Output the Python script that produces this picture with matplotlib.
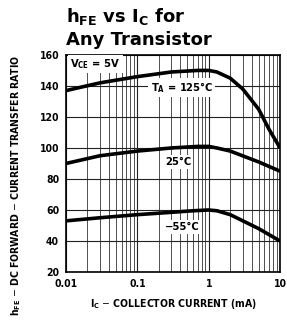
import matplotlib
matplotlib.use("Agg")
import matplotlib.pyplot as plt
from matplotlib.ticker import FixedLocator, LogLocator, NullFormatter

plt.rcParams['font.family'] = ['DejaVu Sans']
plt.rcParams['font.stretch'] = 'condensed'

# collector current (mA)
ic_125 = [0.01, 0.03, 0.1, 0.3, 0.7, 1.0, 1.3, 2.0, 3.0, 5.0, 7.0, 10.0]
hfe_125 = [137, 142, 146, 149, 150, 150, 149, 145, 138, 125, 112, 100]

ic_25 = [0.01, 0.03, 0.1, 0.3, 0.7, 1.0, 1.3, 2.0, 5.0, 10.0]
hfe_25 = [90, 95, 98, 100, 101, 101, 100, 98, 91, 85]

ic_m55 = [0.01, 0.03, 0.1, 0.3, 0.6, 1.0, 1.3, 2.0, 5.0, 10.0]
hfe_m55 = [53, 55, 57, 58.5, 59.5, 60, 59.5, 57, 48, 40]

y_ticks = [20, 40, 60, 80, 100, 120, 140, 160]
x_ticks = [0.01, 0.1, 1, 10]
x_ticklabels = ["0.01", "0.1", "1", "10"]

fig = plt.figure(figsize=(2.87, 3.25), dpi=100)
ax = fig.add_axes([0.23, 0.163, 0.746, 0.668])

ax.set_xscale("log")
ax.set_xlim(0.01, 10)
ax.set_ylim(20, 160)

ax.xaxis.set_major_locator(FixedLocator(x_ticks))
ax.xaxis.set_minor_locator(LogLocator(base=10, subs=range(2, 10)))
ax.xaxis.set_minor_formatter(NullFormatter())
ax.set_xticks(x_ticks)
ax.set_xticklabels(x_ticklabels)
ax.set_yticks(y_ticks)

ax.grid(True, which="major", color="#222222", lw=0.8)
ax.grid(True, which="minor", axis="x", color="#333333", lw=0.6)
ax.tick_params(which="both", length=0, labelsize=7.5, pad=5)
for lab in ax.get_xticklabels() + ax.get_yticklabels():
    lab.set_fontweight("bold")
for s in ax.spines.values():
    s.set_linewidth(1.2)

for xs, ys in [(ic_125, hfe_125), (ic_25, hfe_25), (ic_m55, hfe_m55)]:
    ax.plot(xs, ys, color="black", lw=2.6, solid_capstyle="butt", zorder=3)

box = dict(facecolor="white", edgecolor="none", pad=1.5)
ax.text(0.0115, 154, r"V$_{\mathregular{CE}}$ = 5V", fontsize=8, fontweight="bold",
        ha="left", va="center", bbox=box, zorder=4)
ax.text(0.42, 139, r"T$_{\mathregular{A}}$ = 125°C", fontsize=8, fontweight="bold",
        ha="center", va="center", bbox=box, zorder=4)
ax.text(0.37, 91, "25°C", fontsize=8, fontweight="bold",
        ha="center", va="center", bbox=box, zorder=4)
ax.text(0.42, 49, "\u221255°C", fontsize=8, fontweight="bold",
        ha="center", va="center", bbox=box, zorder=4)

ax.set_xlabel(r"I$_{\mathregular{C}}$ $-$ COLLECTOR CURRENT (mA)", fontsize=7.5,
              fontweight="bold", labelpad=6)
ax.set_ylabel(r"h$_{\mathregular{FE}}$ $-$ DC FORWARD $-$ CURRENT TRANSFER RATIO",
              fontsize=7.5, fontweight="bold")
ax.yaxis.set_label_coords(-0.2, 0.4)

fig.text(0.23, 0.948, r"h$_{\mathregular{FE}}$ vs I$_{\mathregular{C}}$ for",
         fontsize=13, fontweight="bold", fontstretch="normal",
         ha="left", va="center")
fig.text(0.23, 0.878, "Any Transistor", fontsize=13, fontweight="bold",
         fontstretch="normal", ha="left", va="center")

fig.savefig("out.png", dpi=100)
plt.close(fig)
